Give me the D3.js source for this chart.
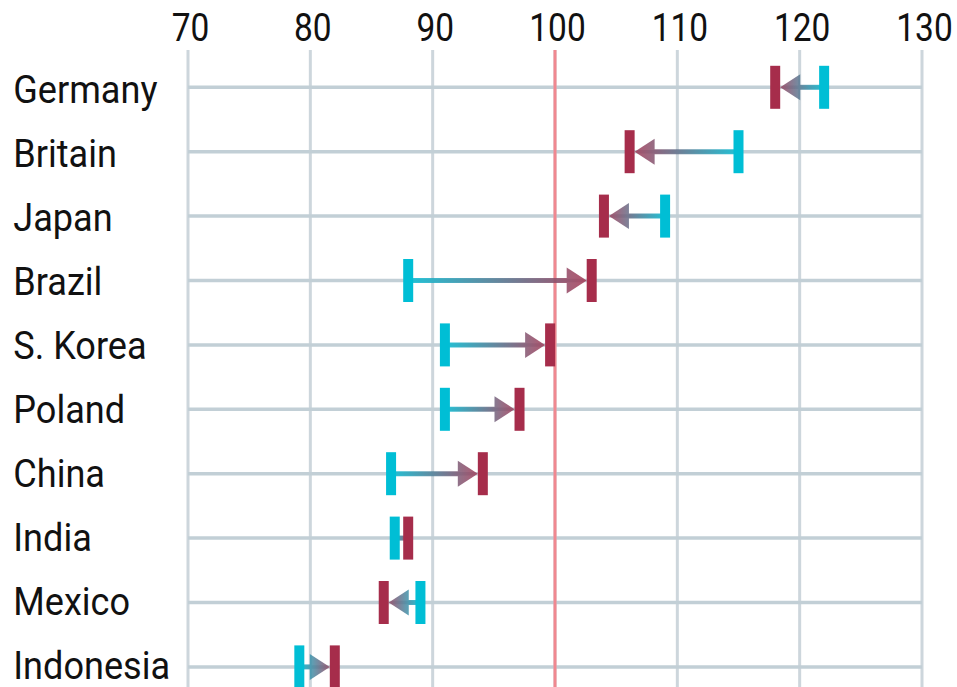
<!DOCTYPE html>
<html>
<head>
<meta charset="utf-8">
<script src="https://cdn.jsdelivr.net/npm/d3@7/dist/d3.min.js"></script>
<style>
  html, body { margin: 0; padding: 0; background: #ffffff; }
  svg { display: block; }
  text { font-family: Roboto, "Open Sans", sans-serif; fill: #111; }
</style>
</head>
<body>
<svg id="chart" width="957" height="687"></svg>
<script>
// Index values per country: earlier reading (cyan) and later reading (crimson)
const categories = ["Germany", "Britain", "Japan", "Brazil", "S. Korea", "Poland", "China", "India", "Mexico", "Indonesia"];
const startValues = [122, 115, 109, 88, 91, 91, 86.6, 86.9, 89, 79.1];
const endValues   = [118, 106.1, 104, 103, 99.6, 97.1, 94.1, 88, 86, 82];
const tickValues  = [70, 80, 90, 100, 110, 120, 130];
const referenceValue = 100;

const colStart = "#00bed5";
const colEnd = "#a62d4b";

const svg = d3.select("#chart");
const W = 957, H = 687;

const x = d3.scaleLinear().domain([70, 130]).range([188, 922]);
const y = d3.scalePoint().domain(categories).range([87.3, 666.9]);
// label baselines
const yLabel = d3.scalePoint().domain(categories).range([103, 679]);

const rows = categories.map((c, i) => ({ name: c, a: startValues[i], b: endValues[i], i }));

// vertical gridlines
svg.append("g").selectAll("line").data(tickValues).join("line")
  .attr("x1", d => x(d)).attr("x2", d => x(d))
  .attr("y1", 50).attr("y2", H)
  .attr("stroke", "#cdd6dc").attr("stroke-width", 3);

// row lines
svg.append("g").selectAll("line").data(rows).join("line")
  .attr("x1", x(70)).attr("x2", x(130))
  .attr("y1", d => y(d.name)).attr("y2", d => y(d.name))
  .attr("stroke", "#c2cfd6").attr("stroke-width", 3.5);

// reference line
svg.append("line")
  .attr("x1", x(referenceValue)).attr("x2", x(referenceValue))
  .attr("y1", 50).attr("y2", H)
  .attr("stroke", "#f08890").attr("stroke-width", 3);

// top axis tick labels
const xAxis = d3.axisTop(x).tickValues(tickValues).tickSize(0).tickPadding(0);
const axisG = svg.append("g").attr("transform", "translate(2,41)").call(xAxis);
axisG.select(".domain").remove();
axisG.selectAll("text")
  .attr("y", 0).attr("dy", 0)
  .attr("font-size", 38)
  .attr("font-family", "Roboto, 'Open Sans', sans-serif")
  .attr("fill", "#111")
  .attr("transform", "scale(0.88,1)");

// gradients per row, running from start to end value
const defs = svg.append("defs");
rows.forEach(d => {
  const g = defs.append("linearGradient")
    .attr("id", "grad" + d.i)
    .attr("gradientUnits", "userSpaceOnUse")
    .attr("x1", x(d.a)).attr("x2", x(d.b)).attr("y1", 0).attr("y2", 0);
  g.append("stop").attr("offset", "0%").attr("stop-color", colStart);
  g.append("stop").attr("offset", "100%").attr("stop-color", colEnd);
});

const barW = 10, barH = 43, arrowLen = 20, arrowH = 26;

// connectors with arrowheads
const conn = svg.append("g").attr("opacity", 0.82);
rows.forEach(d => {
  const xa = x(d.a), xb = x(d.b), cy = y(d.name);
  const dir = xb > xa ? 1 : -1;
  const tip = xb - dir * barW / 2;
  const span = Math.abs(xb - xa);
  if (span > arrowLen) {
    const base = tip - dir * arrowLen;
    conn.append("line")
      .attr("x1", xa).attr("x2", base + dir * 2)
      .attr("y1", cy).attr("y2", cy)
      .attr("stroke", `url(#grad${d.i})`).attr("stroke-width", 5);
    conn.append("path")
      .attr("d", `M${tip},${cy} L${base},${cy - arrowH / 2} L${base},${cy + arrowH / 2} Z`)
      .attr("fill", `url(#grad${d.i})`);
  } else {
    conn.append("line")
      .attr("x1", xa).attr("x2", xb)
      .attr("y1", cy).attr("y2", cy)
      .attr("stroke", `url(#grad${d.i})`).attr("stroke-width", 5);
  }
});

// start and end bars
svg.append("g").selectAll("rect").data(rows).join("rect")
  .attr("x", d => x(d.a) - barW / 2).attr("y", d => y(d.name) - barH / 2)
  .attr("width", barW).attr("height", barH).attr("fill", colStart);
svg.append("g").selectAll("rect").data(rows).join("rect")
  .attr("x", d => x(d.b) - barW / 2).attr("y", d => y(d.name) - barH / 2)
  .attr("width", barW).attr("height", barH).attr("fill", colEnd);

// country labels
svg.append("g").selectAll("text").data(rows).join("text")
  .attr("x", 14).attr("y", d => yLabel(d.name))
  .attr("font-size", 38)
  .attr("transform", "scale(0.95,1)")
  .text(d => d.name);
</script>
</body>
</html>
